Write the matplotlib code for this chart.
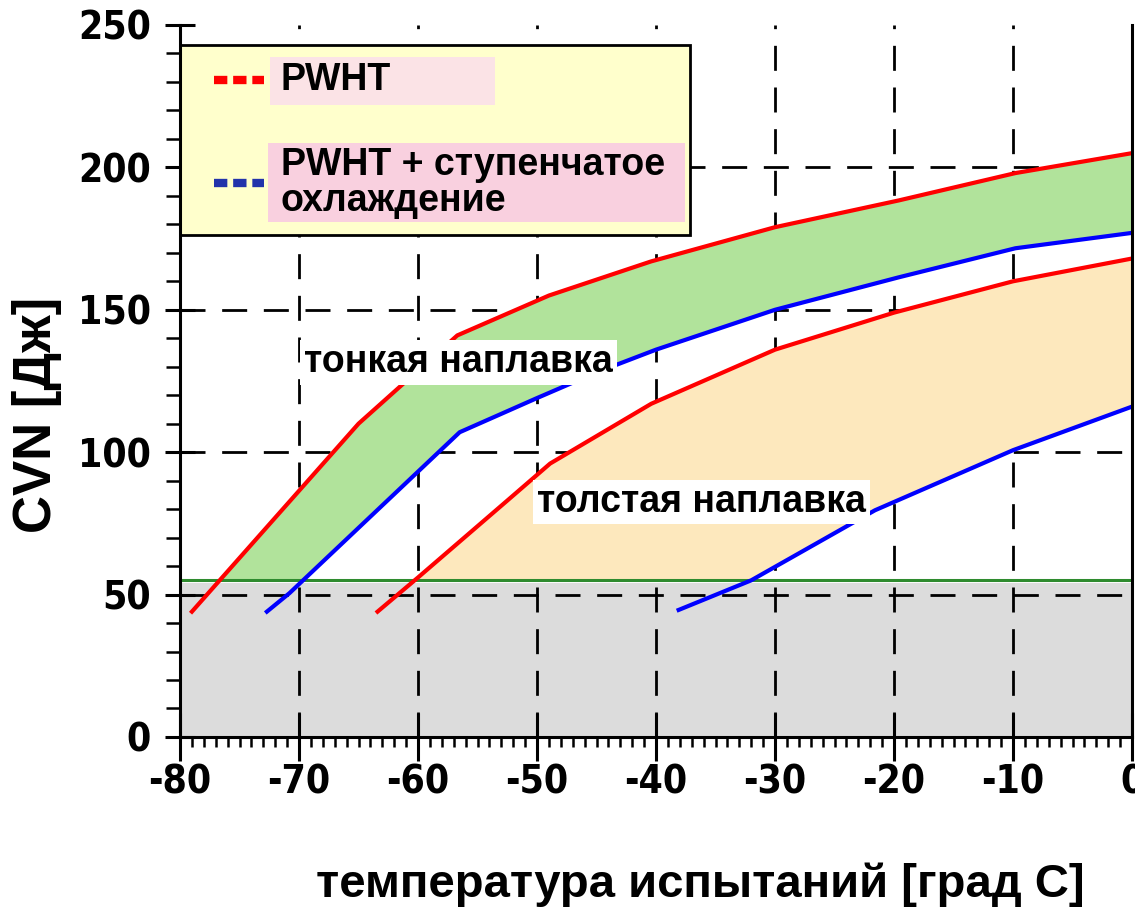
import matplotlib
matplotlib.use("Agg")
import matplotlib.pyplot as plt
import numpy as np
from matplotlib.patches import Rectangle
from matplotlib.lines import Line2D

plt.rcParams['axes.unicode_minus'] = False

# data
thin_pwht_x = [-79, -65, -56.7, -49, -40.4, -30, -19.6, -9.8, 0]
thin_pwht_y = [44, 110, 141, 155, 167, 179, 188.4, 198, 205]

thin_step_x = [-72.7, -70.8, -56.5, -50, -45, -40, -30, -19.6, -9.8, 0]
thin_step_y = [44, 50.5, 107, 119, 128, 136, 150, 161.4, 171.6, 177]

thick_pwht_x = [-63.4, -60, -52.5, -48.9, -40.4, -30, -20, -10, 0]
thick_pwht_y = [44, 56, 83, 96, 117, 136, 149, 160, 168]

thick_step_x = [-38.1, -32, -21.6, -10, 0]
thick_step_y = [44.6, 55, 79.6, 100.7, 116]

min_level = 55
xticks = [-80, -70, -60, -50, -40, -30, -20, -10, 0]
yticks = [0, 50, 100, 150, 200, 250]

fig = plt.figure(figsize=(11.35, 9.22), dpi=100)
ax = fig.add_axes([0.1586, 0.2007, 0.8388, 0.7722])
ax.set_xlim(-80, 0)
ax.set_ylim(0, 250)

# grey area below the requirement
ax.axhspan(0, min_level - 1, color='#dcdcdc', zorder=0.5, lw=0)

# grid, dashed
ax.vlines(xticks[1:-1], 0, 250, colors='black', linestyles=(0, (9, 6)), lw=2, zorder=1)
ax.hlines(yticks[1:-1], -80, 0, colors='black', linestyles=(0, (9, 6)), lw=2, zorder=1)

# bands
xx = np.linspace(-80, 0, 801)
def interp(x, y):
    return np.interp(xx, x, y, left=np.nan, right=np.nan)

tp = interp(thin_pwht_x, thin_pwht_y)
ts = np.interp(xx, thin_step_x, thin_step_y, left=0)
m = ~np.isnan(tp) & (tp > min_level)
ax.fill_between(xx, np.maximum(ts, min_level), tp, where=m, color='#b1e39b', lw=0, zorder=2)

kp = interp(thick_pwht_x, thick_pwht_y)
ks = np.interp(xx, thick_step_x, thick_step_y, left=0)
m = ~np.isnan(kp) & (kp > min_level)
ax.fill_between(xx, np.maximum(ks, min_level), kp, where=m, color='#fde8bd', lw=0, zorder=2)

ax.axhline(min_level, color='#2e8b2e', lw=2.2, zorder=2.5)

# curves
ax.plot(thin_pwht_x, thin_pwht_y, color='red', lw=3, zorder=3)
ax.plot(thick_pwht_x, thick_pwht_y, color='red', lw=3, zorder=3)
ax.plot(thin_step_x, thin_step_y, color='blue', lw=3, zorder=3)
ax.plot(thick_step_x, thick_step_y, color='blue', lw=3, zorder=3)

ax.text(-69.6, 131.5, 'тонкая наплавка', fontsize=27, fontweight='bold',
        family='Liberation Sans', va='center', ha='left', zorder=4,
        bbox=dict(facecolor='white', edgecolor='none', pad=3))
ax.text(-50, 82.5, 'толстая наплавка', fontsize=27, fontweight='bold',
        family='Liberation Sans', va='center', ha='left', zorder=4,
        bbox=dict(facecolor='white', edgecolor='none', pad=3))

# legend drawn by hand
ax.add_patch(Rectangle((-0.002, 0.705), 0.538, 0.267, transform=ax.transAxes,
                       facecolor='#ffffcc', edgecolor='black', lw=2, zorder=5))
ax.add_patch(Rectangle((0.095, 0.888), 0.236, 0.067, transform=ax.transAxes,
                       facecolor='#fbe3e6', edgecolor='none', zorder=5.1))
ax.add_patch(Rectangle((0.092, 0.723), 0.438, 0.111, transform=ax.transAxes,
                       facecolor='#f9d0df', edgecolor='none', zorder=5.1))
ax.add_line(Line2D([0.036, 0.088], [0.923, 0.923], transform=ax.transAxes,
                   color='red', lw=6, linestyle=(0, (1.6, 0.7)), zorder=5.2))
ax.add_line(Line2D([0.036, 0.088], [0.778, 0.778], transform=ax.transAxes,
                   color='#2233aa', lw=6, linestyle=(0, (1.6, 0.7)), zorder=5.2))
ax.text(0.106, 0.923, 'PWHT', transform=ax.transAxes, fontsize=27, fontweight='bold',
        family='Liberation Sans', va='center', ha='left', zorder=5.3)
ax.text(0.106, 0.778, 'PWHT + ступенчатое\nохлаждение', transform=ax.transAxes,
        fontsize=27, fontweight='bold', family='Liberation Sans', va='center',
        ha='left', linespacing=1.0, zorder=5.3)

# axes, ticks
ax.spines['top'].set_visible(False)
for s in ['left', 'bottom', 'right']:
    ax.spines[s].set_linewidth(2.2)
    ax.spines[s].set_zorder(6)

ax.set_xticks(xticks)
ax.set_yticks(yticks)
ax.set_xticks(np.arange(-80, 1, 1), minor=True)
ax.set_yticks(np.arange(0, 251, 10), minor=True)
ax.tick_params(axis='x', which='major', direction='inout', length=34, width=2.2, pad=2)
ax.tick_params(axis='x', which='minor', direction='out', length=7, width=1.8)
ax.tick_params(axis='y', which='major', direction='inout', length=22, width=2.2, pad=10)
ax.tick_params(axis='y', which='minor', direction='out', length=10, width=1.8)
ax.tick_params(right=False, which='both')

for lab in ax.get_xticklabels() + ax.get_yticklabels():
    lab.set_family('DejaVu Sans')
    lab.set_stretch('condensed')
    lab.set_fontweight('bold')
    lab.set_fontsize(28)

ax.set_xlabel('температура испытаний [град С]', fontsize=34, fontweight='bold',
              family='Liberation Sans', va='center')
ax.xaxis.set_label_coords(0.546, -0.208)
ax.set_ylabel('CVN [Дж]', fontsize=38, fontweight='bold', family='Liberation Sans',
              va='center')
ax.yaxis.set_label_coords(-0.150, 0.452)

fig.savefig('out.png', dpi=100)
